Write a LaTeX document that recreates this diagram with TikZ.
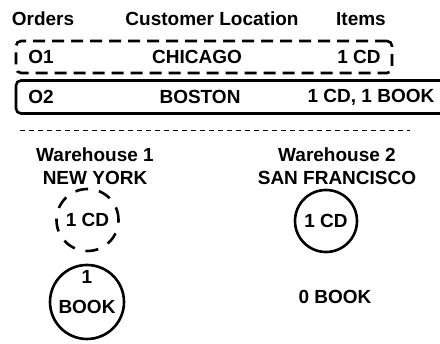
\documentclass[tikz,border=0pt]{standalone}
\usepackage{fontspec}
\setmainfont{Liberation Sans}
\begin{document}
\begin{tikzpicture}[x=1pt,y=-1pt,
  lbl/.style={font=\fontsize{19}{22.5}\selectfont\bfseries, inner sep=0pt, align=center},
  dbox/.style={draw, line width=2.6pt, dash pattern=on 12pt off 7pt, rounded corners=5pt, inner sep=0pt},
  sbox/.style={draw, line width=2.6pt, rounded corners=5pt, inner sep=0pt},
  dcirc/.style={draw, circle, line width=2.6pt, dash pattern=on 13pt off 11pt, inner sep=0pt},
  scirc/.style={draw, circle, line width=2.6pt, inner sep=0pt}]
\clip (0,0) rectangle (440,344);
\useasboundingbox (0,0) rectangle (440,344);
% headers
\node[lbl] (hOrd) at (43,19) {Orders};
\node[lbl] (hLoc) at (212,19) {Customer Location};
\node[lbl] (hIt) at (361,19) {Items};
% order rows
\node[dbox, minimum width=376pt, minimum height=32pt] (r1) at (204,57) {};
\node[sbox, minimum width=440pt, minimum height=33pt] (r2) at (236,97) {};
\node[lbl] (o1) at (41,57) {O1};
\node[lbl] (c1) at (197,57) {CHICAGO};
\node[lbl] (i1) at (359,57) {1 CD};
\node[lbl] (o2) at (41,97) {O2};
\node[lbl] (c2) at (200,97) {BOSTON};
\node[lbl] (i2) at (371,97) {1 CD, 1 BOOK};
% separator
\coordinate (sepL) at (20,130);
\coordinate (sepR) at (410,130);
\draw[line width=0.7pt, dash pattern=on 5pt off 4pt] (sepL) -- (sepR);
% warehouses
\node[lbl] (w1) at (95,166) {Warehouse 1\\NEW YORK};
\node[lbl] (w2) at (337,166) {Warehouse 2\\SAN FRANCISCO};
\node[dcirc, minimum size=62pt] (w1cd) at (87.5,220) {};
\node[lbl] at (w1cd) {1 CD};
\node[scirc, minimum size=74pt] (w1bk) at (87,302) {};
\node[lbl] at (87,277) {1};
\node[lbl] at (87,307) {BOOK};
\node[scirc, minimum size=62pt] (w2cd) at (326,221) {};
\node[lbl] at (w2cd) {1 CD};
\node[lbl] (w2bk) at (335,297) {0 BOOK};
\end{tikzpicture}
\end{document}
